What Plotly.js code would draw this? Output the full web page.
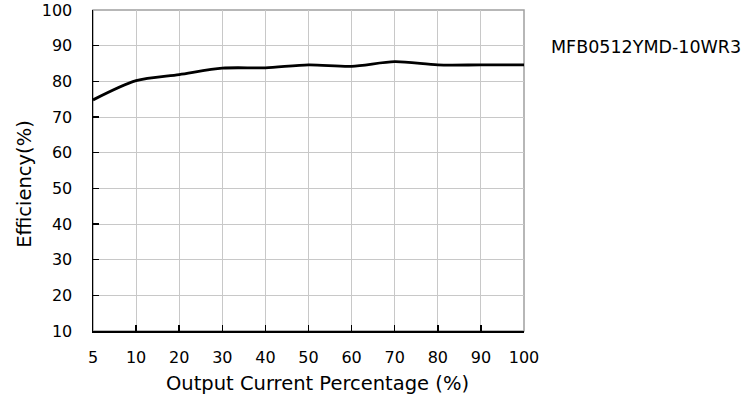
<!DOCTYPE html>
<html><head><meta charset="utf-8">
<script src="https://cdn.plot.ly/plotly-3.0.1.min.js"></script>
<style>html,body{margin:0;padding:0;background:#fff}#chart{width:749px;height:401px}</style>
</head><body><div id="chart"></div>
<script>
const xLabels = ["5","10","20","30","40","50","60","70","80","90","100"];
const efficiency = [74.8, 80.2, 81.9, 83.7, 83.8, 84.6, 84.2, 85.5, 84.6, 84.6, 84.6];
const yTicks = [10,20,30,40,50,60,70,80,90,100];
const seriesName = "MFB0512YMD-10WR3";
const xTitle = "Output Current Percentage (%)";
const yTitle = "Efficiency(%)";

const F = "DejaVu Sans, sans-serif";
const trace = {
  x: xLabels, y: efficiency, type: "scatter", mode: "lines",
  line: {color: "#000", width: 2.8, shape: "spline", smoothing: 0.8},
  showlegend: false, hoverinfo: "skip"
};
const layout = {
  width: 749, height: 401,
  margin: {l: 93, r: 225, t: 10, b: 70},
  paper_bgcolor: "#fff", plot_bgcolor: "#fff",
  font: {family: F, color: "#000", size: 16},
  xaxis: {
    type: "category", categoryorder: "array", categoryarray: xLabels,
    range: [0, xLabels.length - 1],
    showgrid: true, gridcolor: "#c8c8c8", gridwidth: 1,
    showline: true, linecolor: "#000", linewidth: 1.5,
    ticks: "inside", ticklen: 6, tickcolor: "#000", tickwidth: 1.5,
    tickfont: {family: F, size: 16, color: "#000"},
    ticklabelstandoff: 11, zeroline: false
  },
  yaxis: {
    range: [10, 100], tickvals: yTicks,
    showgrid: true, gridcolor: "#c8c8c8", gridwidth: 1,
    showline: true, linecolor: "#000", linewidth: 1.5,
    ticks: "inside", ticklen: 6, tickcolor: "#000", tickwidth: 1.5,
    tickfont: {family: F, size: 16, color: "#000"},
    ticklabelstandoff: 16, zeroline: false
  },
  shapes: [{type: "rect", xref: "paper", yref: "paper", x0: 0, x1: 1, y0: 0, y1: 1,
    line: {color: "#a0a0a0", width: 1.5}, layer: "below"}],
  annotations: [
    {text: seriesName, xref: "paper", yref: "paper", x: 1.058, y: 0.884, xanchor: "left", yanchor: "middle",
     showarrow: false, font: {family: F, size: 17.5, color: "#000"}},
    {text: xTitle, xref: "paper", yref: "paper", x: 0.52, y: -0.162, xanchor: "center", yanchor: "middle",
     showarrow: false, font: {family: F, size: 19.5, color: "#000"}},
    {text: yTitle, xref: "paper", yref: "paper", x: -0.159, y: 0.46, xanchor: "center", yanchor: "middle",
     textangle: -90, showarrow: false, font: {family: F, size: 19.5, color: "#000"}}
  ]
};
Plotly.newPlot("chart", [trace], layout, {displayModeBar: false, staticPlot: true});
</script></body></html>
